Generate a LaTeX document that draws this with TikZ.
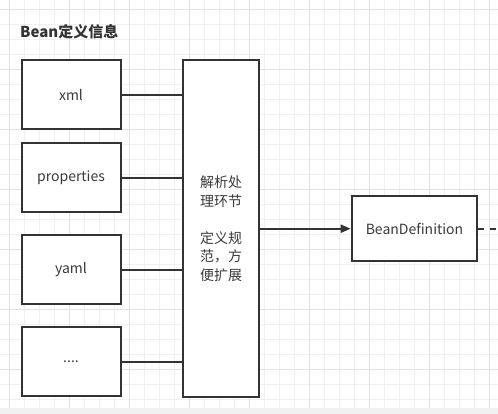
\documentclass[tikz,border=0pt]{standalone}
\usepackage{fontspec}
\setmainfont{Noto Sans CJK SC}
\usepackage{xcolor}
\usepackage{tikz}
\usetikzlibrary{arrows.meta, positioning, calc}
\definecolor{linedark}{HTML}{333333}
\definecolor{textdark}{HTML}{3A3A3A}
\definecolor{gridminor}{HTML}{F0F0F0}
\definecolor{gridmajor}{HTML}{E2E2E2}
\definecolor{stripgray}{HTML}{F1F1F1}
\tikzstyle{srcbox} = [rectangle, draw=linedark, fill=white, line width=2pt, minimum width=99pt, minimum height=69pt, text=textdark, font=\fontsize{14}{18}\selectfont]
\tikzstyle{parsebox} = [rectangle, draw=linedark, fill=white, line width=2pt, minimum width=76pt, minimum height=337pt, align=center, text=textdark, font=\fontsize{14}{18.5}\selectfont]
\tikzstyle{defbox} = [rectangle, draw=linedark, fill=white, line width=2pt, minimum width=125.6pt, minimum height=65.3pt, text=textdark, font=\fontsize{14}{18}\selectfont]
\tikzstyle{link} = [draw=linedark, line width=2pt]
\tikzstyle{arrow} = [-{Triangle[length=10pt, width=8pt]}, draw=linedark, line width=2pt]
\tikzstyle{dashline} = [draw=linedark, line width=2pt, dash pattern=on 6pt off 6pt]

\begin{document}
\begin{tikzpicture}[x=1pt, y=-1pt]
    \useasboundingbox (0,0) rectangle (498,414);
    % Grid background
    \fill[stripgray] (0,407.7) rectangle (498,414);
    \foreach \gx in {9.3,24.3,...,498} \draw[gridminor, line width=1pt] (\gx,0) -- (\gx,407.7);
    \foreach \gy in {9.3,24.3,...,407} \draw[gridminor, line width=1pt] (0,\gy) -- (498,\gy);
    \foreach \gx in {9.3,69.3,...,498} \draw[gridmajor, line width=1pt] (\gx,0) -- (\gx,407.7);
    \foreach \gy in {9.3,69.3,...,407} \draw[gridmajor, line width=1pt] (0,\gy) -- (498,\gy);

    % Title
    \node[anchor=west, inner sep=0pt, text=linedark, font=\fontsize{15}{18}\selectfont\bfseries] (title) at (20, 31.7) {Bean定义信息};

    % Sources
    \node[srcbox] (xml) at (71, 95) {xml};
    \node[srcbox] (props) at (71, 177.8) {properties};
    \node[srcbox] (yaml) at (71, 269.8) {yaml};
    \node[srcbox] (more) at (71, 361.8) {....};

    % Parsing step
    \node[parsebox] (parse) at (221, 228.7) {解析处\\理环节\\~\\定义规\\范，方\\便扩展};

    % Result
    \node[defbox] (beandef) at (414.5, 228.7) {BeanDefinition};
    \coordinate (beyond) at (498, 228.7);

    % Links
    \draw[link] (xml.east) -- (xml.east -| parse.west);
    \draw[link] (props.east) -- (props.east -| parse.west);
    \draw[link] (yaml.east) -- (yaml.east -| parse.west);
    \draw[link] (more.east) -- (more.east -| parse.west);
    \draw[arrow] (parse) -- (beandef);
    \draw[dashline] (beandef.east) -- (beyond);
\end{tikzpicture}
\end{document}
